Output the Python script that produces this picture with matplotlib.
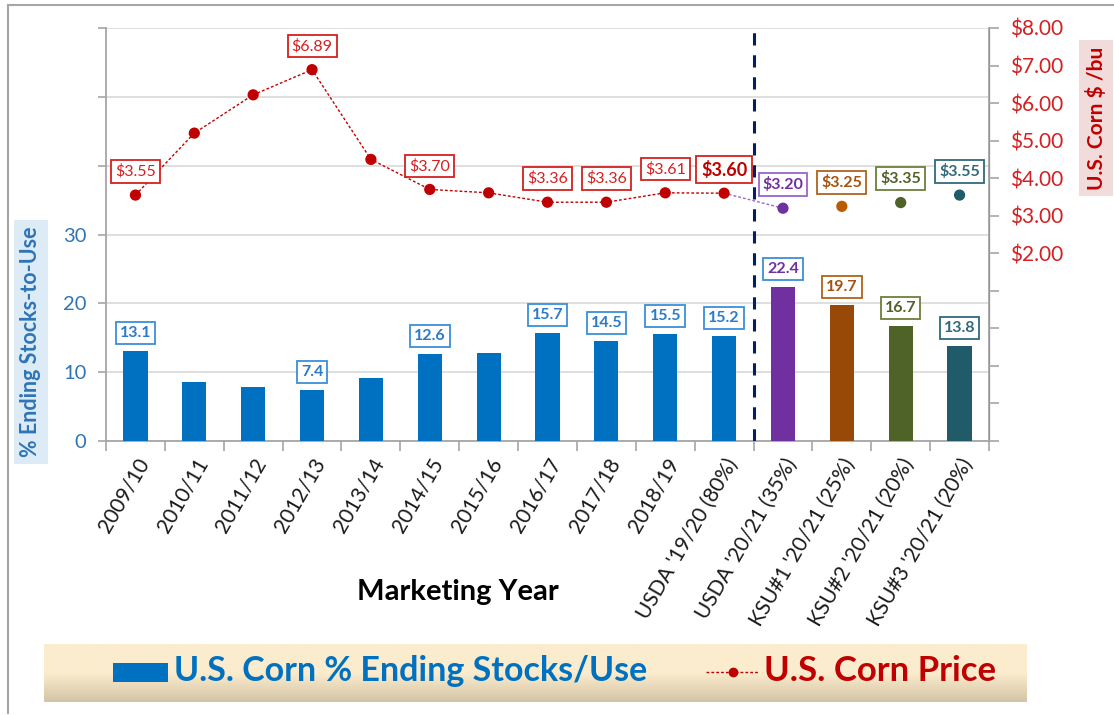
import numpy as np
import matplotlib
matplotlib.use("Agg")
import matplotlib.pyplot as plt
from matplotlib.patches import Rectangle
from matplotlib.lines import Line2D

plt.rcParams['font.family'] = ['Lato', 'DejaVu Sans']

# ---------------- data ----------------
categories = ["2009/10", "2010/11", "2011/12", "2012/13", "2013/14", "2014/15",
              "2015/16", "2016/17", "2017/18", "2018/19", "USDA '19/20 (80%)",
              "USDA '20/21 (35%)", "KSU#1 '20/21 (25%)", "KSU#2 '20/21 (20%)",
              "KSU#3 '20/21 (20%)"]
stocks_use = [13.1, 8.6, 7.9, 7.4, 9.2, 12.6, 12.8, 15.7, 14.5, 15.5, 15.2,
              22.4, 19.7, 16.7, 13.8]
corn_price = [3.55, 5.20, 6.22, 6.89, 4.50, 3.70, 3.61, 3.36, 3.36, 3.61, 3.60,
              3.20, 3.25, 3.35, 3.55]
stock_labels_shown = [0, 3, 5, 7, 8, 9, 10, 11, 12, 13, 14]
price_labels_shown = [0, 3, 5, 7, 8, 9, 10, 11, 12, 13, 14]
left_ticks = [0, 10, 20, 30, 40, 50, 60]
left_tick_labels = ["0", "10", "20", "30", "", "", ""]
right_ticks = [-3, -2, -1, 0, 1, 2, 3, 4, 5, 6, 7, 8]
right_tick_labels = ["", "", "", "", "", "$2.00", "$3.00", "$4.00", "$5.00",
                     "$6.00", "$7.00", "$8.00"]

# ---------------- styles ----------------
BLUE = '#0070C0'
bar_colors = [BLUE] * 11 + ['#7030A0', '#984807', '#4F6228', '#215A69']
stock_text_colors = ['#2B7BC8'] * 11 + ['#7030A0', '#A5520F', '#4F6228', '#31697A']
stock_edge_colors = ['#3B8FD8'] * 11 + ['#3B8FD8', '#B0621A', '#6B7F3A', '#31697A']
price_marker_colors = ['#C00000'] * 11 + ['#7030A0', '#B85C00', '#4F6228', '#215A69']
price_text_colors = ['#D42020'] * 11 + ['#7030A0', '#A5520F', '#4F6228', '#31697A']
price_edge_colors = ['#D42020'] * 11 + ['#9966CC', '#B0621A', '#6B7F3A', '#31697A']

W, H = 1114, 715
fig = plt.figure(figsize=(W / 100, H / 100), dpi=100)
fig.patch.set_facecolor('white')

ax = fig.add_axes([106 / W, 1 - 441 / H, (989 - 106) / W, (441 - 28) / H])
ax2 = ax.twinx()

x = np.arange(len(categories))

# bars
ax.bar(x, stocks_use, width=0.41, color=bar_colors, zorder=3)
ax.set_xlim(-0.5, len(categories) - 0.5)
ax.set_ylim(0, 60)
ax.set_yticks(left_ticks)
ax.set_yticklabels(left_tick_labels, fontsize=14.5, color='#2E75B6')
ax.yaxis.grid(True, color='#D9D9D9', linewidth=1.2, zorder=0)
ax.set_axisbelow(True)
ax.tick_params(axis='y', direction='out', length=6, color='#A6A6A6', width=1.2, pad=8)

# category ticks at boundaries
ax.set_xticks(x)
ax.set_xticklabels(categories, rotation=60, ha='right', rotation_mode='anchor',
                   fontsize=15, color='#1A1A1A')
ax.tick_params(axis='x', which='major', length=0, pad=10)
ax.set_xticks(np.arange(-0.5, len(categories), 1), minor=True)
ax.tick_params(axis='x', which='minor', length=7, color='#A6A6A6', width=1.2)

for sp in ['top']:
    ax.spines[sp].set_visible(False)
    ax2.spines[sp].set_visible(False)
for sp in ['left', 'bottom']:
    ax.spines[sp].set_color('#A6A6A6')
    ax.spines[sp].set_linewidth(1.3)
ax2.spines['right'].set_color('#A6A6A6')
ax2.spines['right'].set_linewidth(1.3)
ax2.spines['left'].set_visible(False)
ax2.spines['bottom'].set_visible(False)

# bar labels
for i in stock_labels_shown:
    ax.annotate(f"{stocks_use[i]:.1f}", (x[i], stocks_use[i]), xytext=(0, 13),
                textcoords='offset points', ha='center', va='center',
                fontsize=11.5, fontweight='bold', color=stock_text_colors[i],
                bbox=dict(boxstyle='square,pad=0.25', fc='white',
                          ec=stock_edge_colors[i], lw=1.3), zorder=5)

# divider
ax.axvline(10.5, color='#002060', linestyle=(0, (4, 3.2)), linewidth=2.2, zorder=4)

# price line
ax2.set_ylim(-3, 8)
ax2.set_yticks(right_ticks)
ax2.set_yticklabels(right_tick_labels, fontsize=15, color='#D42020')
ax2.tick_params(axis='y', direction='out', length=7, color='#A6A6A6', width=1.2, pad=8)

ax2.plot(x[:11], corn_price[:11], color='#C00000', linestyle=(0, (2, 1.5)),
         linewidth=1.0, zorder=3)
ax2.plot(x[10:12], corn_price[10:12], color='#9966CC', linestyle=(0, (2, 1.5)),
         linewidth=1.0, zorder=3)
ax2.scatter(x, corn_price, s=50, color=price_marker_colors, zorder=4)

for i in price_labels_shown:
    is_bold = i >= 10
    fs = 13 if i == 10 else 11.5
    ax2.annotate(f"${corn_price[i]:.2f}", (x[i], corn_price[i]), xytext=(0, 17),
                 textcoords='offset points', ha='center', va='center',
                 fontsize=fs, fontweight='bold' if is_bold else 'normal',
                 color='#C00000' if i == 10 else price_text_colors[i],
                 bbox=dict(boxstyle='square,pad=0.25', fc='white',
                           ec=price_edge_colors[i], lw=1.3), zorder=5)

# axis titles
fig.text(31 / W, 1 - 342 / H, "% Ending Stocks-to-Use", rotation=90, ha='center',
         va='center', fontsize=15.5, fontweight='bold', color='#2E75B6',
         bbox=dict(boxstyle='square,pad=0.3', fc='#DDEBF7', ec='none'))
fig.text(1096 / W, 1 - 118 / H, "U.S. Corn $ /bu", rotation=90, ha='center',
         va='center', fontsize=15, fontweight='bold', color='#C00000',
         bbox=dict(boxstyle='square,pad=0.3', fc='#F2DCDB', ec='none'))
fig.text(458 / W, 1 - 592 / H, "Marketing Year", ha='center', va='center',
         fontsize=21, fontweight='bold', color='black')

# legend box with gradient
lax = fig.add_axes([44 / W, 1 - 702 / H, (1027 - 44) / W, 58 / H])
grad = np.linspace(0, 1, 100).reshape(-1, 1)
top_c = np.array([251, 236, 206]) / 255
bot_c = np.array([210, 196, 164]) / 255
t = np.clip((grad - 0.5) / 0.5, 0, 1)
img = top_c * (1 - t[..., None]) + bot_c * t[..., None]
img = img.reshape(100, 1, 3)
lax.imshow(img, aspect='auto', extent=[0, 1, 0, 1])
lax.set_axis_off()

fig.patches.append(Rectangle((113 / W, 1 - 682 / H), 55 / W, 19 / H,
                             transform=fig.transFigure, fc=BLUE, ec='none'))
fig.text(174 / W, 1 - 671 / H, "U.S. Corn % Ending Stocks/Use", ha='left',
         va='center', fontsize=24.5, fontweight='bold', color=BLUE)
fig.lines.append(Line2D([706 / W, 758 / W], [1 - 672 / H, 1 - 672 / H],
                        transform=fig.transFigure, color='#C00000',
                        linestyle=(0, (2, 1.5)), linewidth=1.0))
fig.lines.append(Line2D([733 / W], [1 - 672 / H], transform=fig.transFigure,
                        color='#C00000', marker='o', markersize=6, linestyle='none'))
fig.text(764 / W, 1 - 671 / H, "U.S. Corn Price", ha='left', va='center',
         fontsize=25, fontweight='bold', color='#C00000')

# outer frame
fig.lines.append(Line2D([8 / W, 1.0], [1 - 5 / H, 1 - 5 / H], transform=fig.transFigure,
                        color='#A6A6A6', linewidth=1.5))
fig.lines.append(Line2D([8 / W, 8 / W], [1 - 5 / H, 1 - 713 / H], transform=fig.transFigure,
                        color='#A6A6A6', linewidth=1.5))

fig.savefig("out.png", dpi=100)
